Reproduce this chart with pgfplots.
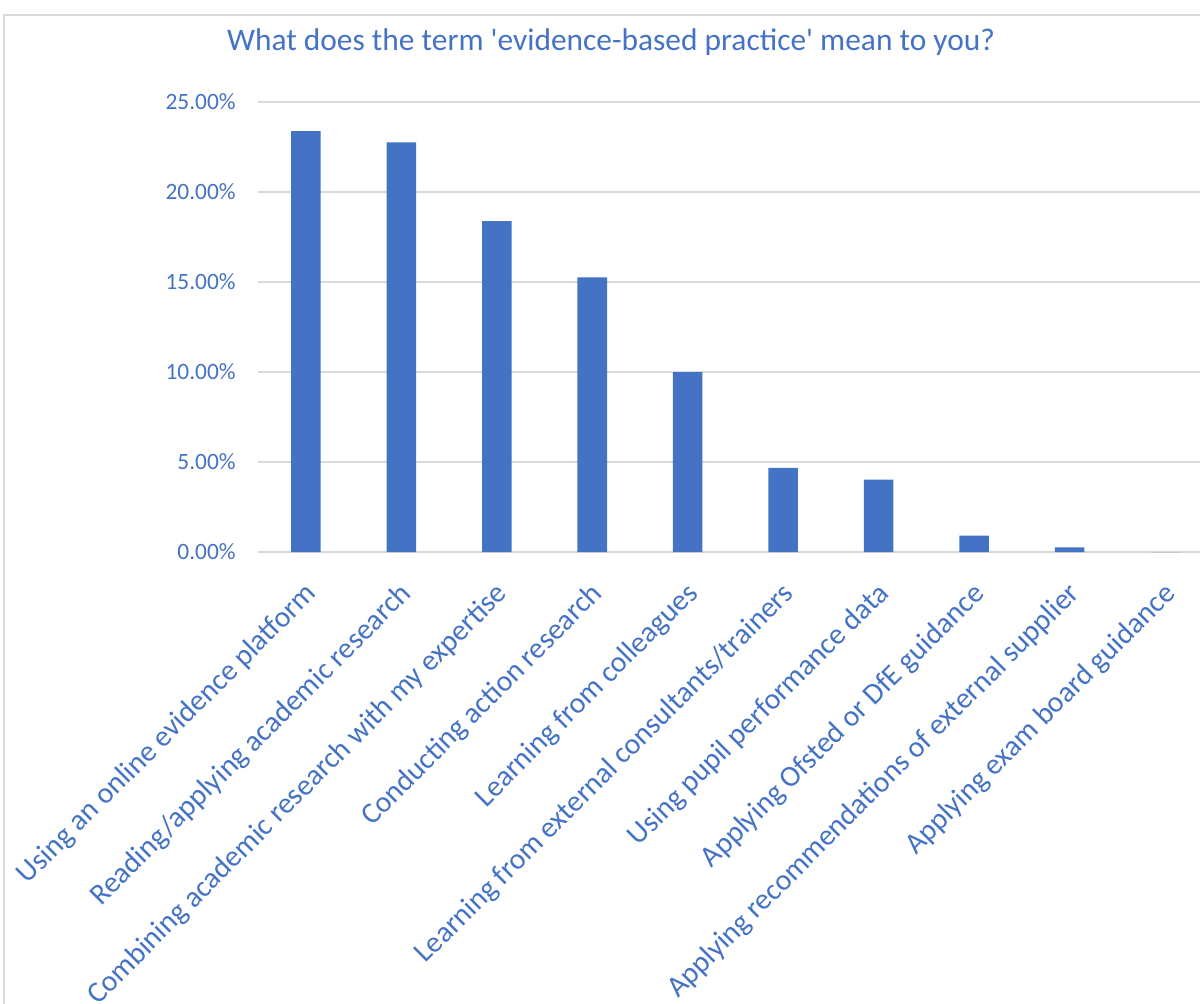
\documentclass[border=0pt]{standalone}
\usepackage{pgfplots}
\pgfplotsset{compat=1.18}
\usepackage{fontspec}
\setmainfont{Carlito}
\definecolor{barblue}{HTML}{4472C4}
\definecolor{txtblue}{HTML}{4472C4}
\definecolor{gridgray}{HTML}{D9D9D9}
\begin{document}
\begin{tikzpicture}
\useasboundingbox (0pt,0pt) rectangle (600pt,-501.5pt);
\draw[gridgray, line width=0.9pt] (2pt,-520pt) -- (2pt,-7.5pt) -- (620pt,-7.5pt);
\node[text=txtblue, anchor=base, inner sep=0pt, font=\fontsize{15.7}{18}\selectfont] at (305.5pt,-25pt) {What does the term \textquotesingle evidence-based practice\textquotesingle{} mean to you?};
\begin{axis}[
  at={(129pt,-276pt)}, anchor=south west,
  scale only axis, width=477.5pt, height=225pt,
  xmin=-0.5, xmax=9.5, ymin=0, ymax=25,
  ytick={0,5,...,25},
  yticklabels={0.00\%,5.00\%,10.00\%,15.00\%,20.00\%,25.00\%},
  xtick={0,...,9},
  xticklabels={Using an online evidence platform,Reading/applying academic research,Combining academic research with my expertise,Conducting action research,Learning from colleagues,Learning from external consultants/trainers,Using pupil performance data,Applying Ofsted or DfE guidance,Applying recommendations of external supplier,Applying exam board guidance},
  ymajorgrids, grid style={gridgray, line width=0.9pt},
  axis line style={draw=none}, major tick length=0pt,
  yticklabel style={font=\fontsize{11.7}{14}\selectfont, text=txtblue, inner sep=0pt, xshift=-11pt},
  xticklabel style={font=\fontsize{14.8}{18}\selectfont, text=txtblue, inner sep=0pt, xshift=-1.5pt, yshift=-14pt, rotate=45, anchor=north east},
  clip=false,
]
\addplot[ybar, bar width=14.75pt, fill=barblue, draw=none] coordinates {
(0,23.38) (1,22.76) (2,18.38) (3,15.26) (4,10.0) (5,4.67) (6,4.02) (7,0.91) (8,0.26) (9,0)
};
\end{axis}
\end{tikzpicture}
\end{document}
